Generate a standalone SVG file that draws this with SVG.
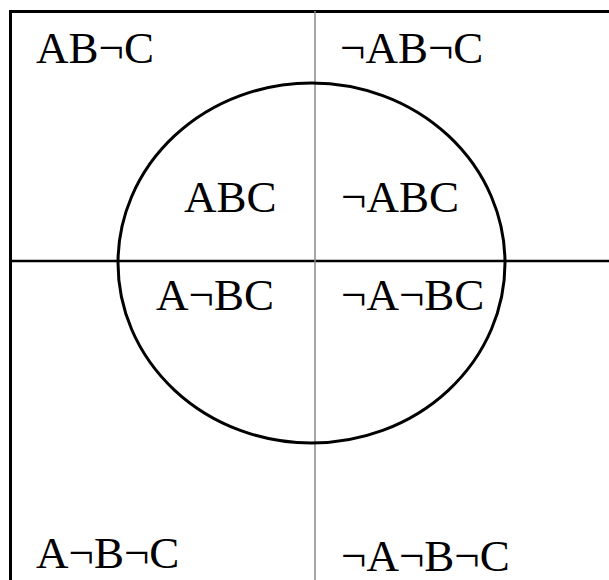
<svg xmlns="http://www.w3.org/2000/svg" width="609" height="580" viewBox="0 0 609 580">
<style>
text{font-family:"Liberation Serif","Times New Roman",serif;font-size:45px;fill:#000}
.b{stroke:#000;fill:none}
</style>
<rect width="609" height="580" fill="#fff"/>
<g id="frame">
<path class="b" d="M10.5 600 V11.5 H620" stroke-width="3"/>
</g>
<g id="connectors">
<line x1="10" y1="261" x2="609" y2="261" stroke="#000" stroke-width="2.5"/>
<line x1="315" y1="11" x2="315" y2="580" stroke="#888" stroke-width="1.5"/>
</g>
<g id="circle">
<ellipse class="b" cx="311.5" cy="263" rx="193.5" ry="180" stroke-width="3"/>
</g>
<g id="labels">
<text x="36" y="63">AB¬C</text>
<text x="340" y="63">¬AB¬C</text>
<text x="184" y="212">ABC</text>
<text x="341" y="212">¬ABC</text>
<text x="156" y="310">A¬BC</text>
<text x="341" y="310">¬A¬BC</text>
<text x="36" y="568">A¬B¬C</text>
<text x="341" y="571">¬A¬B¬C</text>
</g>
</svg>
